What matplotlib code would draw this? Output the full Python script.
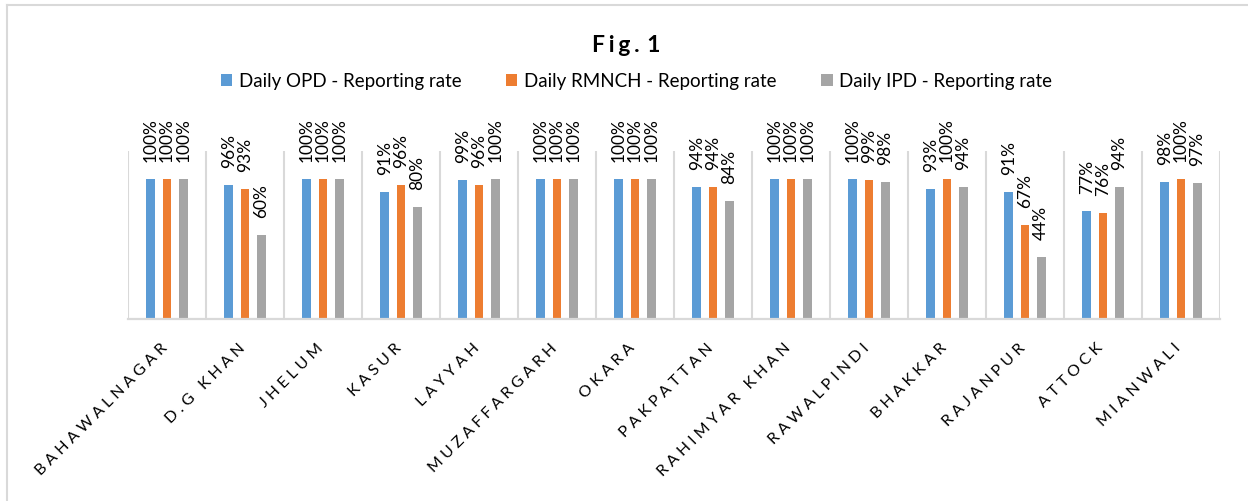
import matplotlib
matplotlib.use("Agg")
import matplotlib.pyplot as plt
from matplotlib.lines import Line2D
from matplotlib.transforms import ScaledTranslation
import numpy as np

plt.rcParams['font.family'] = ['Lato', 'DejaVu Sans']

# districts and reporting rates (%)
districts = ["BAHAWALNAGAR", "D.G KHAN", "JHELUM", "KASUR", "LAYYAH", "MUZAFFARGARH",
             "OKARA", "PAKPATTAN", "RAHIMYAR KHAN", "RAWALPINDI", "BHAKKAR",
             "RAJANPUR", "ATTOCK", "MIANWALI"]
opd = [100, 96, 100, 91, 99, 100, 100, 94, 100, 100, 93, 91, 77, 98]
rmnch = [100, 93, 100, 96, 96, 100, 100, 94, 100, 99, 100, 67, 76, 100]
ipd = [100, 60, 100, 80, 100, 100, 100, 84, 100, 98, 94, 44, 94, 97]

series = [("Daily OPD - Reporting rate", opd, "#5B9BD5"),
          ("Daily RMNCH - Reporting rate", rmnch, "#ED7D31"),
          ("Daily IPD - Reporting rate", ipd, "#A5A5A5")]

SP = "\u2005"  # letter spacing


def spaced(s):
    return SP.join(s)


fig = plt.figure(figsize=(12.48, 5.02), dpi=100)
ax = fig.add_axes([128 / 1248, 1 - 320 / 502, (1220 - 128) / 1248, (320 - 152) / 502])

x = np.arange(len(districts))
width = 0.11
offsets = [-0.208, 0, 0.208]

for (name, vals, col), off in zip(series, offsets):
    bars = ax.bar(x + off, [v / 100 for v in vals], width, color=col, label=name, zorder=3)
    for b, v in zip(bars, vals):
        ax.annotate(f"{v}%", (b.get_x() + b.get_width() / 2, b.get_height()),
                    xytext=(0, 13), textcoords="offset points", rotation=90,
                    ha="center", va="bottom", fontsize=12.5, color="#000000")

ax.set_xlim(-0.5, len(districts) - 0.5)
ax.set_ylim(0, 1.2)
ax.set_yticks([])
for s in ["top", "right", "left"]:
    ax.spines[s].set_visible(False)
ax.spines["bottom"].set_color("#d9d9d9")
ax.spines["bottom"].set_linewidth(1.6)
ax.spines["bottom"].set_zorder(4)

# category separators
for b in np.arange(-0.5, len(districts), 1.0):
    ax.axvline(b, color="#d9d9d9", linewidth=1.5, zorder=1)

ax.set_xticks(x)
ax.set_xticklabels([spaced(d) for d in districts], rotation=45, ha="right",
                   rotation_mode="anchor", fontsize=11.5)
ax.tick_params(axis="x", length=0, pad=16)
shift = ScaledTranslation(-0.07, 0.01, fig.dpi_scale_trans)
for lbl in ax.get_xticklabels():
    lbl.set_transform(lbl.get_transform() + shift)

fig.text(0.502, 1 - 46 / 502, "\u2006".join("Fig.") + "\u2004" + "1", ha="center", va="center",
         fontsize=16.5, fontweight="bold")

fig.legend(loc="center", bbox_to_anchor=(0.51, 1 - 82 / 502), ncol=3, frameon=False,
           fontsize=13.5, handlelength=0.6, handleheight=0.6, handletextpad=0.35,
           columnspacing=2.4)

# outer chart border (top and left edges visible)
fig.add_artist(Line2D([7 / 1248, 1], [1 - 6 / 502, 1 - 6 / 502], color="#d9d9d9", linewidth=1.5))
fig.add_artist(Line2D([7 / 1248, 7 / 1248], [0, 1 - 6 / 502], color="#d9d9d9", linewidth=1.5))

fig.savefig("out.png", dpi=100)
